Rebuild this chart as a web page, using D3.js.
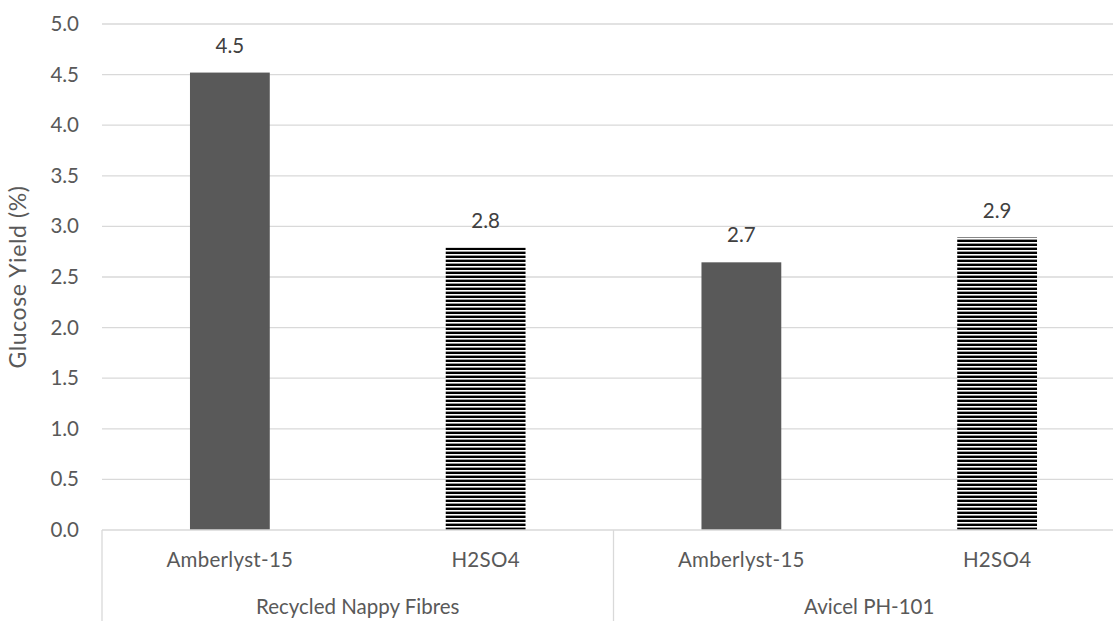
<!DOCTYPE html>
<html>
<head>
<meta charset="utf-8">
<script src="https://cdn.jsdelivr.net/npm/d3@7"></script>
<style>
  body { margin: 0; background: #fff; }
  svg { font-family: "Lato", "Open Sans", sans-serif; }
</style>
</head>
<body>
<svg id="chart" width="1113" height="621"></svg>
<script>
// data
var groups = ["Recycled Nappy Fibres", "Avicel PH-101"];
var treatments = ["Amberlyst-15", "H2SO4"];
var values = [4.52, 2.79, 2.645, 2.89];
var labels = ["4.5", "2.8", "2.7", "2.9"];
var yTicks = [0, 0.5, 1, 1.5, 2, 2.5, 3, 3.5, 4, 4.5, 5];

d3.select(window).on("load", init);

function init() {
    var svg = d3.select("#chart");
    var plotLeft = 102, plotRight = 1125, plotTop = 24, plotBottom = 530;
    var textColor = "#595959";
    var fontSize = 20.5;

    var rows = [];
    groups.forEach(function (g, gi) {
        treatments.forEach(function (t, ti) {
            var i = gi * treatments.length + ti;
            rows.push({ group: g, treat: t, key: g + "|" + t, value: values[i], label: labels[i], hatched: ti == 1 });
        });
    });

    var x = d3.scaleBand()
        .domain(rows.map(function (d) { return d.key; }))
        .range([plotLeft, plotRight])
        .paddingInner(0.688)
        .paddingOuter(0.344);

    var y = d3.scaleLinear().domain([0, 5]).range([plotBottom, plotTop]);

    // hatch pattern for H2SO4 bars
    var pat = svg.append("defs").append("pattern")
        .attr("id", "hatch")
        .attr("patternUnits", "userSpaceOnUse")
        .attr("width", 8).attr("height", 4);
    pat.append("rect").attr("width", 8).attr("height", 4).attr("fill", "#fff");
    pat.append("rect").attr("y", 0).attr("width", 8).attr("height", 2).attr("fill", "#000");
    pat.append("rect").attr("y", 3).attr("width", 8).attr("height", 1).attr("fill", "#9a9a9a");

    // gridlines
    svg.append("g")
        .selectAll("line")
        .data(yTicks.slice(1))
        .enter()
        .append("line")
        .attr("x1", plotLeft).attr("x2", plotRight)
        .attr("y1", function (d) { return y(d); })
        .attr("y2", function (d) { return y(d); })
        .attr("stroke", "#d9d9d9").attr("stroke-width", 1.3);

    // y tick labels
    svg.append("g")
        .selectAll("text")
        .data(yTicks)
        .enter()
        .append("text")
        .attr("x", 79)
        .attr("y", function (d) { return y(d) + 7; })
        .attr("text-anchor", "end")
        .attr("fill", textColor)
        .attr("font-size", fontSize)
        .text(function (d) { return d.toFixed(1); });

    // y axis title
    svg.append("text")
        .attr("transform", "translate(26," + ((plotTop + plotBottom) / 2) + ") rotate(-90)")
        .attr("text-anchor", "middle")
        .attr("fill", textColor)
        .attr("font-size", 23)
        .attr("letter-spacing", 0.6)
        .text("Glucose Yield (%)");

    // bars
    svg.append("g")
        .selectAll("rect")
        .data(rows)
        .enter()
        .append("rect")
        .attr("x", function (d) { return x(d.key); })
        .attr("width", x.bandwidth())
        .attr("y", function (d) { return y(d.value); })
        .attr("height", function (d) { return y(0) - y(d.value); })
        .attr("fill", function (d) { return d.hatched ? "url(#hatch)" : "#595959"; });

    // value labels
    svg.append("g")
        .selectAll("text")
        .data(rows)
        .enter()
        .append("text")
        .attr("x", function (d) { return x(d.key) + x.bandwidth() / 2; })
        .attr("y", function (d) { return y(d.value) - 20; })
        .attr("text-anchor", "middle")
        .attr("fill", "#404040")
        .attr("font-size", fontSize)
        .text(function (d) { return d.label; });

    // category axis
    svg.append("line")
        .attr("x1", plotLeft).attr("x2", plotRight)
        .attr("y1", plotBottom).attr("y2", plotBottom)
        .attr("stroke", "#d9d9d9").attr("stroke-width", 1.3);

    var groupWidth = x.step() * treatments.length;
    svg.append("g")
        .selectAll("line")
        .data(d3.range(groups.length + 1))
        .enter()
        .append("line")
        .attr("x1", function (d) { return plotLeft + d * groupWidth; })
        .attr("x2", function (d) { return plotLeft + d * groupWidth; })
        .attr("y1", plotBottom).attr("y2", 621)
        .attr("stroke", "#d9d9d9").attr("stroke-width", 1.3);

    svg.append("g")
        .selectAll("text")
        .data(rows)
        .enter()
        .append("text")
        .attr("x", function (d) { return x(d.key) + x.bandwidth() / 2; })
        .attr("y", 567)
        .attr("text-anchor", "middle")
        .attr("fill", textColor)
        .attr("font-size", fontSize)
        .attr("letter-spacing", 0.3)
        .text(function (d) { return d.treat; });

    svg.append("g")
        .selectAll("text")
        .data(groups)
        .enter()
        .append("text")
        .attr("x", function (d, i) { return plotLeft + (i + 0.5) * groupWidth; })
        .attr("y", 614)
        .attr("text-anchor", "middle")
        .attr("fill", textColor)
        .attr("font-size", fontSize)
        .text(function (d) { return d; });
}
</script>
</body>
</html>
